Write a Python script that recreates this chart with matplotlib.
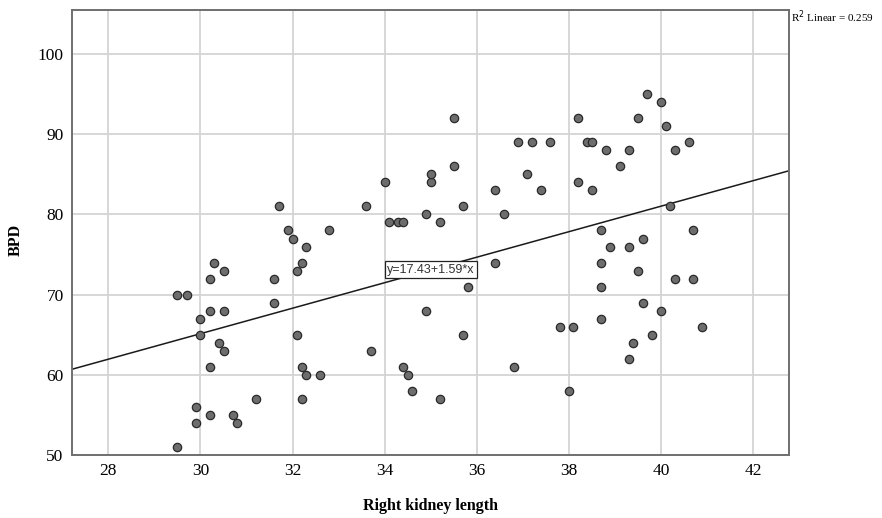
import matplotlib
matplotlib.use("Agg")
import matplotlib.pyplot as plt

# Right kidney length (x) and BPD (y)
kidney_length = [
    29.5, 29.7, 29.5, 29.9, 29.9, 30.0, 30.0, 30.2, 30.3, 30.5,
    30.2, 30.5, 30.4, 30.5, 30.2, 30.2, 30.7, 30.8, 31.2, 31.6,
    31.6, 32.1, 32.2, 32.1, 32.2, 32.3, 32.2, 32.6, 33.7, 34.4,
    34.5, 34.6, 34.9, 35.2, 35.7, 31.7, 31.9, 32.0, 32.3, 32.8,
    33.6, 34.0, 34.1, 34.3, 34.4, 34.9, 35.0, 35.0, 35.2, 35.5,
    35.5, 35.7, 36.4, 36.6, 36.9, 37.1, 37.2, 37.4, 37.6, 38.2,
    38.2, 38.4, 38.5, 38.5, 38.8, 39.1, 39.3, 39.5, 39.7, 40.0,
    40.1, 40.3, 40.6, 40.2, 38.7, 38.9, 39.3, 39.6, 40.7, 36.4,
    35.8, 36.8, 37.8, 38.1, 38.0, 38.7, 38.7, 38.7, 39.5, 40.3,
    40.7, 39.6, 40.0, 40.9, 39.8, 39.4, 39.3,
]
bpd = [
    70, 70, 51, 56, 54, 67, 65, 72, 74, 73,
    68, 68, 64, 63, 61, 55, 55, 54, 57, 72,
    69, 73, 74, 65, 61, 60, 57, 60, 63, 61,
    60, 58, 68, 57, 65, 81, 78, 77, 76, 78,
    81, 84, 79, 79, 79, 80, 84, 85, 79, 92,
    86, 81, 83, 80, 89, 85, 89, 83, 89, 92,
    84, 89, 89, 83, 88, 86, 88, 92, 95, 94,
    91, 88, 89, 81, 78, 76, 76, 77, 78, 74,
    71, 61, 66, 66, 58, 74, 71, 67, 73, 72,
    72, 69, 68, 66, 65, 64, 62,
]

# fit line reported on the chart
intercept = 17.43
slope = 1.59
r_squared = 0.259

x_min, x_max = 27.21, 42.78
y_min, y_max = 50, 105.5
x_ticks = [28, 30, 32, 34, 36, 38, 40, 42]
y_ticks = [50, 60, 70, 80, 90, 100]

fig = plt.figure(figsize=(8.82, 5.18), dpi=100)
ax = fig.add_axes([72 / 882, 1 - 455 / 518, (789 - 72) / 882, (455 - 10) / 518])

serif = ["Liberation Serif", "DejaVu Serif"]

ax.grid(True, color="#d4d4d4", linewidth=1.3)
ax.set_axisbelow(True)

ax.plot([x_min, x_max], [intercept + slope * x_min, intercept + slope * x_max],
        color="#1a1a1a", linewidth=1.1, zorder=2)

ax.scatter(kidney_length, bpd, s=36, facecolor="#6d6d6d", edgecolor="#2a2a2a",
           linewidth=0.9, zorder=3)

ax.text(35.01, 73.1, f"y={intercept}+{slope}*x", family=["Liberation Sans"],
        fontsize=9, color="#333333", ha="center", va="center", zorder=4,
        bbox=dict(boxstyle="square,pad=0.2", facecolor="white",
                  edgecolor="#222222", linewidth=0.9))

ax.set_xlim(x_min, x_max)
ax.set_ylim(y_min, y_max)
ax.set_xticks(x_ticks)
ax.set_yticks(y_ticks)
ax.tick_params(length=0, pad=6, labelsize=12.5)
for lbl in ax.get_xticklabels() + ax.get_yticklabels():
    lbl.set_family(serif)

for sp in ax.spines.values():
    sp.set_color("#6f6f6f")
    sp.set_linewidth(1.4)

ax.set_xlabel("Right kidney length", family=serif, fontsize=11.5,
              fontweight="bold")
ax.xaxis.set_label_coords(0.5, -0.096)
ax.set_ylabel("BPD", family=serif, fontsize=11.5, fontweight="bold")
ax.yaxis.set_label_coords(-0.067, 0.483)

fig.text(791 / 882, 1 - 17 / 518, f"R$^2$ Linear = {r_squared}", family=serif,
         fontsize=8, ha="left", va="center")

fig.savefig("out.png", dpi=100)
